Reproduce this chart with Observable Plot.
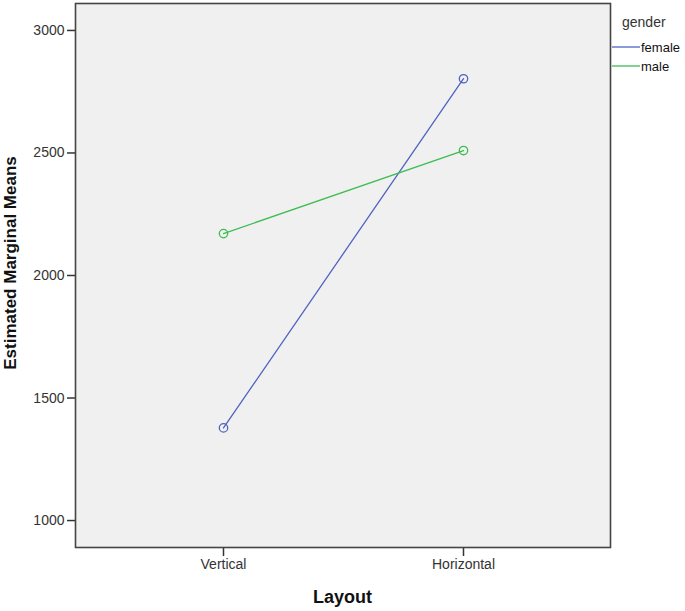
<!DOCTYPE html>
<html>
<head>
<meta charset="utf-8">
<script src="https://cdn.jsdelivr.net/npm/d3@7"></script>
<script src="https://cdn.jsdelivr.net/npm/@observablehq/plot@0.6"></script>
<style>
  body { margin: 0; background: #fff; }
  #chart { width: 685px; height: 611px; }
  svg { font-family: Arial, "Liberation Sans", sans-serif; }
</style>
</head>
<body>
<div id="chart"></div>
<script>
const layouts = ["Vertical", "Horizontal"];
const genders = ["female", "male"];
const femaleMeans = [1378, 2803];
const maleMeans = [2171, 2510];
const yTicks = [1000, 1500, 2000, 2500, 3000];
const colors = ["#4f63c2", "#3cbd4f"];

const data = [];
layouts.forEach((l, i) => {
  data.push({layout: l, gender: "female", mean: femaleMeans[i]});
  data.push({layout: l, gender: "male", mean: maleMeans[i]});
});

const W = 685, H = 611;
const mL = 75, mR = 75, mT = 3, mB = 64;

const plot = Plot.plot({
  width: W,
  height: H,
  marginLeft: mL,
  marginRight: mR,
  marginTop: mT,
  marginBottom: mB,
  style: {fontFamily: "Arial, 'Liberation Sans', sans-serif", fontSize: "14px", color: "#333", background: "#fff"},
  x: {type: "point", domain: layouts, padding: 0.612, label: null},
  y: {domain: [890, 3110], label: null},
  color: {domain: genders, range: colors},
  marks: [
    Plot.frame({fill: "#f0f0f0", stroke: "none"}),
    Plot.axisY({ticks: yTicks, tickSize: 8, tickPadding: 3, tickFormat: d => String(d), fontSize: 14, stroke: "#333", strokeWidth: 1.5, label: null}),
    Plot.axisX({tickSize: 9, tickPadding: 3, fontSize: 14, stroke: "#333", strokeWidth: 1.5, label: null}),
    Plot.line(data, {x: "layout", y: "mean", z: "gender", stroke: "gender", strokeWidth: 1.3}),
    Plot.dot(data, {x: "layout", y: "mean", stroke: "gender", r: 4.2, strokeWidth: 1.3, fill: "none"}),
    Plot.frame({stroke: "#444", strokeWidth: 1.6})
  ]
});

document.getElementById("chart").appendChild(plot);

const svg = d3.select(plot);
// Axis titles
svg.append("text")
  .attr("x", mL + (W - mL - mR) / 2)
  .attr("y", 603)
  .attr("text-anchor", "middle")
  .attr("font-size", 18)
  .attr("font-weight", "bold")
  .attr("fill", "#111")
  .text("Layout");
svg.append("text")
  .attr("transform", "translate(16,263) rotate(-90)")
  .attr("text-anchor", "middle")
  .attr("font-size", 17)
  .attr("font-weight", "bold")
  .attr("fill", "#111")
  .text("Estimated Marginal Means");

// Legend
const lg = svg.append("g").attr("text-anchor", "start");
lg.append("text").attr("x", 622).attr("y", 27).attr("text-anchor", "start").attr("font-size", 14).attr("fill", "#333").text("gender");
genders.forEach((g, i) => {
  const y = 47 + i * 19;
  lg.append("line").attr("x1", 612).attr("x2", 640).attr("y1", y).attr("y2", y)
    .attr("stroke", colors[i]).attr("stroke-width", 1.3);
  lg.append("text").attr("x", 641).attr("y", y + 4.5).attr("text-anchor", "start").attr("font-size", 13).attr("fill", "#111").text(g);
});
</script>
</body>
</html>
